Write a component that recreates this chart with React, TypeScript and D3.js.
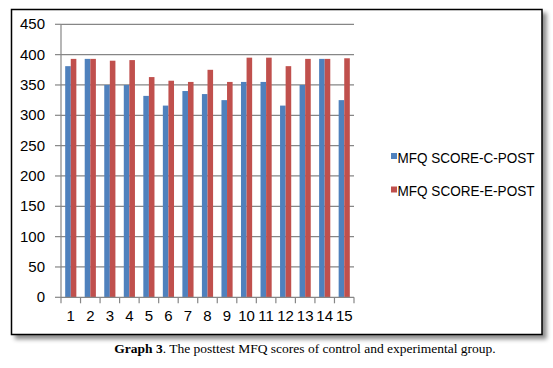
import React from "react";
import * as d3 from "d3";

const categories = ["1","2","3","4","5","6","7","8","9","10","11","12","13","14","15"];
const controlPost = [381, 393, 350, 350, 332, 316, 340, 335, 325, 355, 355, 316, 350, 393, 325];
const experimentalPost = [393, 393, 390, 391, 363, 357, 355, 375, 355, 395, 395, 381, 393, 393, 394];
const seriesNames = ["MFQ SCORE-C-POST", "MFQ SCORE-E-POST"];
const seriesColors = ["#4F81BD", "#C0504D"];
const yTicks = [0, 50, 100, 150, 200, 250, 300, 350, 400, 450];
const caption = "The posttest MFQ scores of control and experimental group.";

export default function App() {
  const W = 553, H = 368;
  const left = 61, right = 354, top = 24.3, bottom = 297.3;
  const x = d3.scaleBand<string>().domain(categories).range([left, right])
    .paddingInner(1.5 / 3.5).paddingOuter(0.75 / 3.5);
  const y = d3.scaleLinear().domain([0, 450]).range([bottom, top]);
  const step = x.step();
  const bw = x.bandwidth() / 2;
  const series = [controlPost, experimentalPost];
  const grid = "#868686";
  return (
    <svg width={W} height={H} style={{ position: "absolute", left: 0, top: 0, background: "#fff" }}>
      <defs>
        <filter id="sh" x="-5%" y="-5%" width="115%" height="120%">
          <feDropShadow dx="4" dy="4" stdDeviation="2" floodColor="#000" floodOpacity="0.45" />
        </filter>
      </defs>
      <rect x={11.5} y={9.5} width={530.5} height={325} fill="#fff" stroke="#000" strokeWidth={1.5} filter="url(#sh)" />
      {yTicks.map(t => (
        <g key={t}>
          {t > 0 && <line x1={left} x2={right} y1={y(t)} y2={y(t)} stroke={grid} strokeWidth={1.2} />}
          <line x1={left - 6} x2={left} y1={y(t)} y2={y(t)} stroke={grid} strokeWidth={1.2} />
          <text x={45} y={y(t) + 5} textAnchor="end" fontFamily="Liberation Sans, Arial, sans-serif" fontSize={15} fill="#000">{t}</text>
        </g>
      ))}
      {series.map((vals, si) => vals.map((v, i) => (
        <rect key={si + "-" + i} x={(x(categories[i]) as number) + si * bw} y={y(v)} width={bw} height={y(0) - y(v)} fill={seriesColors[si]} />
      )))}
      <line x1={left} x2={left} y1={top} y2={bottom} stroke={grid} strokeWidth={1.2} />
      <line x1={left} x2={right} y1={bottom} y2={bottom} stroke={grid} strokeWidth={1.2} />
      {d3.range(categories.length + 1).map(i => (
        <line key={i} x1={left + i * step} x2={left + i * step} y1={bottom} y2={bottom + 6} stroke={grid} strokeWidth={1.2} />
      ))}
      {categories.map(c => (
        <text key={c} x={(x(c) as number) + x.bandwidth() / 2} y={321} textAnchor="middle" fontFamily="Liberation Sans, Arial, sans-serif" fontSize={15} fill="#000">{c}</text>
      ))}
      {seriesNames.map((n, i) => (
        <g key={n}>
          <rect x={391} y={153 + i * 33.5} width={6} height={6} fill={seriesColors[i]} />
          <text x={397.5} y={162.5 + i * 33.5} fontFamily="Liberation Sans, Arial, sans-serif" fontSize={14} textLength={137} lengthAdjust="spacingAndGlyphs" fill="#000">{n}</text>
        </g>
      ))}
      <text x={305} y={352.5} textAnchor="middle" fontFamily="Liberation Serif, Times New Roman, serif" fontSize={13.5} fill="#000">
        <tspan fontWeight="bold">Graph 3</tspan>. {caption}
      </text>
    </svg>
  );
}
